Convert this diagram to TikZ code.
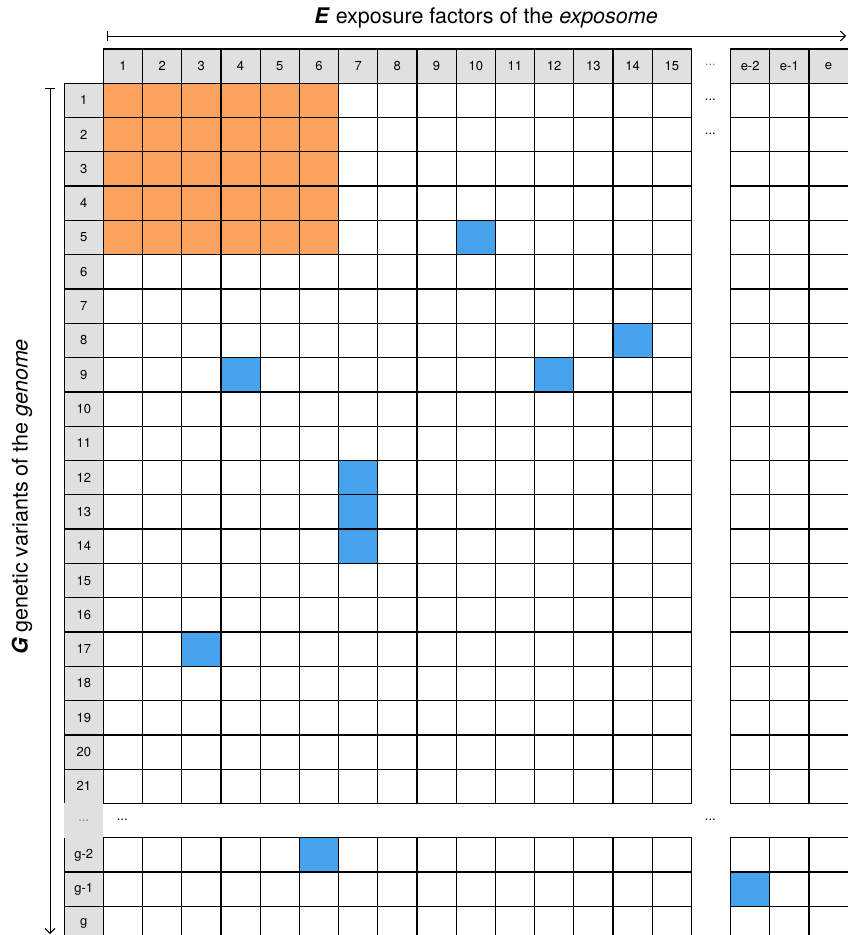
\documentclass[tikz,border=0pt]{standalone}
\usepackage{fontspec}
\setmainfont{TeX Gyre Heros}
\usepackage{tikz}
\usetikzlibrary{arrows.meta}
\definecolor{hdrgray}{RGB}{224,224,224}
\definecolor{dotgray}{RGB}{120,120,120}
\definecolor{orangecell}{RGB}{251,163,94}
\definecolor{bluecell}{RGB}{71,162,238}

\begin{document}
\begin{tikzpicture}[x=1pt,y=-1pt,
  cell/.style={draw,line width=1.3pt,minimum width=39.2pt,minimum height=34.3pt,
               inner sep=0pt,anchor=north west,font=\fontsize{13}{15}\selectfont},
  hdr/.style={cell,fill=hdrgray},
  dots/.style={font=\fontsize{13}{15}\selectfont,inner sep=0pt},
  title/.style={font=\fontsize{21.5}{25}\selectfont,inner sep=0pt},
  axis/.style={line width=1pt,{Bar[width=10pt]}-{Straight Barb[length=5pt,width=10pt]}}]
\useasboundingbox (0,0) rectangle (848,935);
% blue cells (row-column)
\foreach \p in {5-10,8-14,9-4,9-12,12-7,13-7,14-7,17-3,23-6,24-17}
  {\expandafter\gdef\csname hit-\p\endcsname{}}
% column headers
\foreach \c [evaluate=\c as \x using {102.7+(\c-1)*39.2}] in {1,...,15}
  \node[hdr] (h\c) at (\x,48.2) {\c};
\foreach \t [count=\k from 17,evaluate=\k as \x using {102.7+(\k-1)*39.2}] in {e-2,e-1,e}
  \node[hdr] (h\k) at (\x,48.2) {\t};
% row headers
\foreach \r [evaluate=\r as \y using {82.5+(\r-1)*34.3}] in {1,...,21}
  \node[hdr] (r\r) at (63.5,\y) {\r};
\foreach \t [count=\k from 23,evaluate=\k as \y using {82.5+(\k-1)*34.3}] in {g-2,g-1,g}
  \node[hdr] (r\k) at (63.5,\y) {\t};
\node[hdr,draw=none,text=dotgray] (r22) at (63.5,802.8) {...};
% matrix cells
\foreach \r in {1,...,21,23,24,25}
  \foreach \c in {1,...,15,17,18,19} {
    \def\cellfill{white}
    \ifnum\r<6 \ifnum\c<7 \def\cellfill{orangecell}\fi\fi
    \ifcsname hit-\r-\c\endcsname \def\cellfill{bluecell}\fi
    \node[cell,fill=\cellfill] (c-\r-\c) at ({102.7+(\c-1)*39.2},{82.5+(\r-1)*34.3}) {};
  }
% gaps
\node[dots,text=dotgray] (gh) at (710.3,65.3) {...};
\node[dots] (g1) at (710.3,99.6) {...};
\node[dots] (g2) at (710.3,133.9) {...};
\node[dots] (gl) at (122.3,820) {...};
\node[dots] (gr) at (710.3,820) {...};
% axes
\coordinate (ea) at (106.7,36);
\coordinate (eb) at (846,36);
\draw[axis] (ea) -- (eb);
\coordinate (ga) at (50,88);
\coordinate (gb) at (50,934);
\draw[axis] (ga) -- (gb);
\node[title] (etitle) at (486,18) {\textbf{\textit{E}} exposure factors of the \textit{exposome}};
\node[title,rotate=90] (gtitle) at (22,497) {\textbf{\textit{G}} genetic variants of the \textit{genome}};
\end{tikzpicture}
\end{document}
